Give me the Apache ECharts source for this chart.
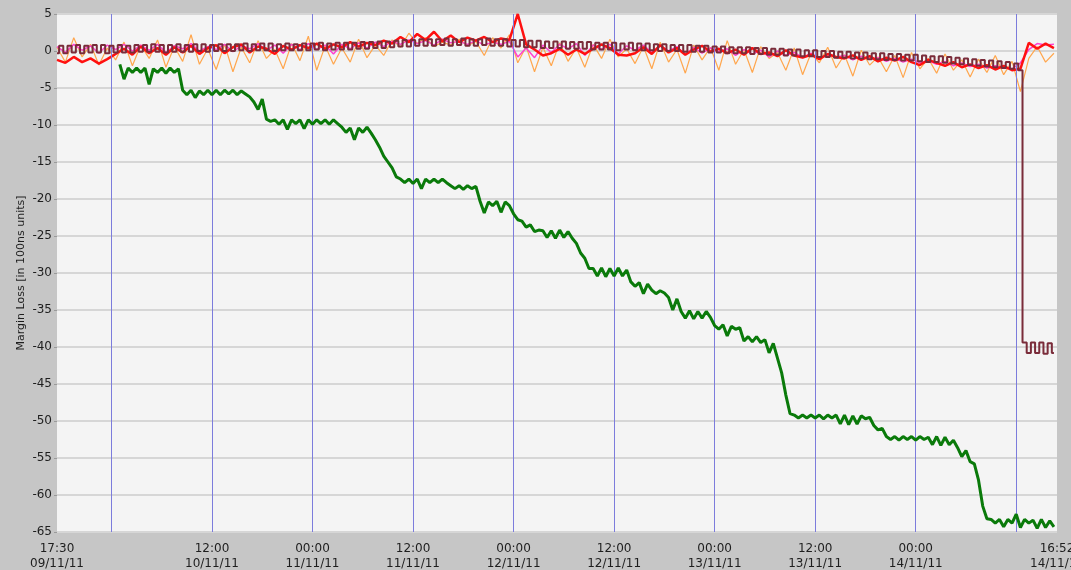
<!DOCTYPE html>
<html>
<head>
<meta charset="utf-8">
<script src="https://cdn.jsdelivr.net/npm/echarts@6/dist/echarts.min.js"></script>
<style>
  html, body { margin: 0; padding: 0; background: #c6c6c6; }
  #chart { width: 1071px; height: 570px; }
</style>
</head>
<body>
<div id="chart"></div>
<script>
// x values are hours since 17:30 09/11/11
const endHour = 119.3667; // 16:52 14/11/11
const labelHours = [0, 18.5, 30.5, 42.5, 54.5, 66.5, 78.5, 90.5, 102.5, endHour];
const labelTexts = ['17:30\n09/11/11', '12:00\n10/11/11', '00:00\n11/11/11', '12:00\n11/11/11',
  '00:00\n12/11/11', '12:00\n12/11/11', '00:00\n13/11/11', '12:00\n13/11/11', '00:00\n14/11/11',
  '16:52\n14/11/11'];
const gridHours = [6.5, 18.5, 30.5, 42.5, 54.5, 66.5, 78.5, 90.5, 102.5, 114.5];

// green: every half hour from 7.5 h
const greenStart = 7.5;
const greenValues = [
  -1.8, -3.8, -2.3, -2.9, -2.3, -2.9, -2.3, -4.5, -2.4, -2.9, -2.3, -3.0, -2.3, -2.9, -2.4,
  -5.3, -5.9, -5.3, -6.3, -5.4, -5.9, -5.3, -5.9, -5.3, -5.9, -5.3, -5.8, -5.3, -5.9, -5.4, -5.8,
  -6.2, -6.9, -7.9, -6.5,
  -9.2, -9.5, -9.3, -9.9, -9.3, -10.6, -9.3, -9.8, -9.3, -10.5, -9.3, -9.9, -9.3, -9.8, -9.3, -9.9, -9.3, -9.8,
  -10.3, -11.0, -10.4, -12.0, -10.4, -11.0, -10.3, -11.1,
  -12.0, -13.0, -14.2, -15.0, -15.8, -17.0,
  -17.3, -17.8, -17.3, -17.9, -17.3, -18.6, -17.3, -17.8, -17.3, -17.8, -17.3, -17.8,
  -18.2, -18.6, -18.2, -18.7, -18.2, -18.6, -18.3,
  -20.3, -21.9, -20.4, -20.9, -20.3, -21.8, -20.4, -20.9,
  -22.0, -22.8, -23.0, -23.8, -23.5, -24.4, -24.2,
  -24.3, -25.2, -24.3, -25.3, -24.2, -25.2, -24.4, -25.3,
  -26.0, -27.3, -28.0, -29.4,
  -29.4, -30.4, -29.3, -30.5, -29.4, -30.4, -29.3, -30.4, -29.6,
  -31.2, -31.8, -31.3, -32.8, -31.5,
  -32.3, -32.8, -32.4, -32.7,
  -33.3, -35.0, -33.5,
  -35.2, -36.1, -35.1, -36.2, -35.2, -36.1, -35.2, -36.0,
  -37.1, -37.6, -37.0, -38.5, -37.2, -37.6, -37.4,
  -39.2, -38.6, -39.3, -38.6, -39.4, -39.0,
  -40.8, -39.5, -41.5, -43.5, -46.5, -49.0,
  -49.2, -49.6, -49.2, -49.6, -49.2, -49.6, -49.2, -49.7, -49.2, -49.6, -49.2, -50.4, -49.2, -50.5, -49.3, -50.4, -49.3, -49.7, -49.5,
  -50.6, -51.2, -51.0,
  -52.1, -52.5, -52.1, -52.6, -52.1, -52.5, -52.1, -52.6, -52.1, -52.5, -52.2, -53.2, -52.1, -53.3, -52.2, -53.2, -52.6,
  -53.6, -54.8, -54.0, -55.5, -55.8,
  -58.0, -61.5, -63.2,
  -63.3, -63.8, -63.3, -64.3, -63.3, -63.8, -62.6, -64.4, -63.3, -63.8, -63.4, -64.5, -63.3, -64.4, -63.5, -64.3
];

// maroon: every half hour from 0 h
const maroonValues = [
  -0.3, 0.7, -0.3, 0.7, -0.2, 0.8, -0.3, 0.7, -0.2, 0.8,
  -0.2, 0.8, -0.3, 0.7, -0.2, 0.8, -0.2, 0.7, -0.2, 0.8,
  -0.1, 0.8, -0.1, 0.9, -0.1, 0.8, -0.2, 0.8, -0.1, 0.9,
  -0.1, 0.8, -0.1, 0.9, 0.0, 0.9, -0.1, 0.8, 0.0, 0.9,
  0.0, 0.9, 0.0, 0.9, 0.1, 1.0, 0.0, 0.9, 0.1, 1.0,
  0.1, 1.0, 0.0, 0.9, 0.1, 1.0, 0.1, 0.9, 0.1, 1.0,
  0.1, 1.0, 0.2, 1.1, 0.1, 1.0, 0.2, 1.1, 0.2, 1.1,
  0.2, 1.1, 0.3, 1.2, 0.3, 1.2, 0.4, 1.3, 0.4, 1.3,
  0.5, 1.4, 0.6, 1.5, 0.6, 1.5, 0.7, 1.6, 0.7, 1.6,
  0.7, 1.6, 0.8, 1.7, 0.7, 1.6, 0.8, 1.7, 0.7, 1.6,
  0.7, 1.6, 0.8, 1.7, 0.7, 1.6, 0.7, 1.6, 0.6, 1.5,
  0.6, 1.5, 0.5, 1.4, 0.5, 1.4, 0.4, 1.3, 0.4, 1.3,
  0.4, 1.3, 0.3, 1.2, 0.3, 1.2, 0.3, 1.2, 0.2, 1.1,
  0.2, 1.1, 0.2, 1.1, 0.1, 1.0, 0.2, 1.1, 0.1, 1.0,
  0.1, 1.0, 0.1, 0.9, 0.0, 0.9, 0.0, 0.8, 0.0, 0.8,
  -0.1, 0.8, -0.1, 0.7, -0.1, 0.7, -0.2, 0.6, -0.2, 0.6,
  -0.3, 0.5, -0.3, 0.5, -0.3, 0.5, -0.4, 0.4, -0.4, 0.4,
  -0.5, 0.3, -0.5, 0.3, -0.6, 0.2, -0.6, 0.2, -0.7, 0.1,
  -0.7, 0.1, -0.8, 0.0, -0.8, 0.0, -0.9, -0.1, -0.9, -0.1,
  -1.0, -0.2, -1.0, -0.2, -1.1, -0.3, -1.1, -0.3, -1.2, -0.4,
  -1.2, -0.4, -1.3, -0.5, -1.3, -0.5, -1.4, -0.6, -1.5, -0.7,
  -1.5, -0.7, -1.6, -0.8, -1.7, -0.9, -1.8, -1.0, -1.9, -1.1,
  -2.0, -1.2, -2.1, -1.3, -2.2, -1.4, -2.3, -1.5, -2.4, -1.7,
  -2.6, -39.4, -40.8, -39.4, -40.8, -39.4, -40.9, -39.5, -40.8
];

// hourly from 0 h
const redValues = [
  -1.2, -1.6, -0.8, -1.5, -1.0, -1.7, -1.1, -0.4, 0.3, -0.5,
  0.6, -0.3, 0.4, -0.5, 0.5, -0.2, 0.7, -0.4, 0.4, 0.8,
  -0.3, 0.5, 0.9, -0.2, 0.6, 0.3, -0.4, 0.7, 0.2, 0.8,
  0.4, 1.0, 0.3, 0.9, 0.5, 1.2, 0.6, 1.1, 0.8, 1.4,
  1.0, 1.9, 1.2, 2.3, 1.5, 2.6, 1.3, 2.1, 1.2, 1.8,
  1.4, 1.9, 1.2, 1.7, 1.5, 5.0, 0.9, 0.2, -0.6, -0.3,
  0.3, -0.5, 0.2, -0.4, 0.3, 0.9, 0.4, -0.5, -0.6, -0.3,
  0.5, -0.4, 0.8, -0.2, 0.4, -0.5, 0.2, 0.7, -0.1, 0.3,
  -0.3, 0.2, -0.5, 0.4, -0.4, -0.2, -0.7, 0.1, -0.6, -0.9,
  -0.5, -1.1, -0.4, -0.8, -1.0, -0.6, -1.2, -0.7, -1.4, -0.9,
  -1.3, -0.8, -1.5, -1.9, -1.2, -1.6, -2.0, -1.5, -2.2, -1.8,
  -2.3, -1.9, -2.5, -2.0, -2.6, -2.4, 1.1, 0.3, 1.0, 0.4
];
const orangeValues = [
  0.5, -1.5, 1.8, -0.8, 0.9, -1.9, 0.4, -1.2, 1.2, -2.0,
  0.8, -1.0, 1.5, -2.2, 0.6, -1.4, 2.2, -1.8, 0.3, -2.5,
  0.9, -2.8, 0.5, -1.6, 1.4, -1.0, 0.2, -2.4, 1.0, -1.3,
  2.0, -2.6, 0.7, -1.8, 0.4, -1.5, 1.6, -0.9, 0.8, -0.6,
  1.5, 0.5, 2.4, 1.0, 1.8, 0.6, 1.2, 0.8, 1.6, 0.7,
  1.3, -0.6, 1.8, 0.4, 2.2, -1.6, 0.6, -2.8, 0.5, -2.0,
  1.1, -1.4, 0.4, -2.2, 0.9, -1.0, 1.6, -0.8, 0.3, -1.7,
  0.6, -2.4, 1.2, -1.5, 0.2, -3.0, 0.8, -1.2, 0.5, -2.6,
  1.4, -1.8, 0.2, -2.9, 0.6, -1.0, -0.2, -2.6, 0.4, -3.2,
  -0.3, -1.6, 0.5, -2.3, -0.5, -3.4, 0.1, -1.9, -0.8, -2.8,
  -0.6, -3.6, -0.2, -2.4, -1.0, -3.0, -0.4, -2.6, -1.2, -3.5,
  -1.1, -2.9, -0.6, -3.2, -1.4, -5.5, -1.0, 0.6, -1.5, -0.3
];
const pinkValues = [
  0.6, -0.2, 0.9, 0.1, 0.7, -0.3, 0.8, 0.2, 0.9, 0.0,
  0.8, 0.1, 0.9, -0.2, 0.7, 0.3, 1.0, 0.0, 0.6, 0.2,
  0.9, -0.1, 0.7, 0.3, 1.0, 0.1, 0.8, -0.3, 0.9, 0.2,
  1.0, 0.2, 0.8, -0.4, 0.9, 0.3, 1.1, 0.4, 1.2, 0.6,
  1.3, 0.9, 1.5, 1.0, 1.4, 0.8, 1.6, 1.1, 1.3, 0.9,
  1.4, 0.8, 1.2, 0.9, 1.3, -0.8, 0.4, -0.9, 0.8, -0.2,
  0.9, 0.3, 1.0, -0.6, 0.8, 0.2, 0.9, -0.4, 0.7, 0.1,
  0.8, -0.2, 0.7, 0.0, 0.6, -0.5, 0.5, -0.3, 0.4, -0.1,
  0.3, -0.6, 0.2, -0.4, 0.1, -0.8, 0.0, -0.6, -0.2, -0.9,
  -0.3, -1.0, -0.5, -0.8, -0.6, -1.2, -0.7, -1.1, -0.9, -1.4,
  -1.0, -1.5, -1.1, -1.6, -1.3, -1.8, -1.4, -2.0, -1.6, -2.1,
  -1.8, -2.3, -2.0, -2.3, -2.4, -1.6, 0.2, 1.0, 0.8, 0.9
];

const pairs = (vals, start, step) => vals.map((v, i) => [start + i * step, v]);
const fontFamily = 'DejaVu Sans';

const chart = echarts.init(document.getElementById('chart'));
chart.setOption({
  animation: false,
  backgroundColor: '#c6c6c6',
  grid: {
    left: 57, right: 14, top: 14, bottom: 38,
    outerBoundsMode: 'none',
    show: true, backgroundColor: '#f4f4f4', borderWidth: 0
  },
  xAxis: {
    type: 'value',
    min: 0,
    max: endHour,
    axisLine: { show: false },
    axisTick: { show: false },
    splitLine: { show: false },
    axisLabel: {
      customValues: labelHours,
      fontFamily: fontFamily,
      fontSize: 12,
      color: '#1e1e1e',
      lineHeight: 15,
      margin: 9,
      formatter: (v) => {
        const i = labelHours.findIndex(h => Math.abs(h - v) < 0.01);
        return i >= 0 ? labelTexts[i] : '';
      }
    }
  },
  yAxis: {
    type: 'value',
    min: -65,
    max: 5,
    interval: 5,
    name: 'Margin Loss [in 100ns units]',
    nameLocation: 'middle',
    nameGap: 30,
    nameMoveOverlap: false,
    nameTextStyle: { fontFamily: fontFamily, fontSize: 11, color: '#1e1e1e' },
    axisLine: { show: false },
    axisTick: { show: true, length: 3, lineStyle: { color: '#9a9a9a' } },
    axisLabel: { fontFamily: fontFamily, fontSize: 12, color: '#1e1e1e', margin: 5 },
    splitLine: { lineStyle: { color: '#d6d6d6', width: 2 } }
  },
  series: [
    {
      type: 'line',
      data: [],
      z: 1,
      silent: true,
      markLine: {
        silent: true,
        symbol: 'none',
        label: { show: false },
        lineStyle: { color: '#7c7cdc', width: 1, type: 'solid' },
        data: gridHours.map(h => ({ xAxis: h }))
      }
    },
    {
      type: 'line', z: 2, showSymbol: false,
      data: pairs(orangeValues, 0, 1),
      lineStyle: { color: '#ffa64d', width: 1.2 }
    },
    {
      type: 'line', z: 3, showSymbol: false,
      data: pairs(pinkValues, 0, 1),
      lineStyle: { color: '#ff40d0', width: 1.5 }
    },
    {
      type: 'line', z: 4, showSymbol: false,
      data: pairs(redValues, 0, 1),
      lineStyle: { color: '#ff1010', width: 2.5 }
    },
    {
      type: 'line', z: 5, showSymbol: false, step: 'middle',
      data: pairs(maroonValues, 0, 0.5),
      lineStyle: { color: '#7a2c3a', width: 2 }
    },
    {
      type: 'line', z: 6, showSymbol: false,
      data: pairs(greenValues, greenStart, 0.5),
      lineStyle: { color: '#0a7a0a', width: 3 }
    }
  ]
});
</script>
</body>
</html>
